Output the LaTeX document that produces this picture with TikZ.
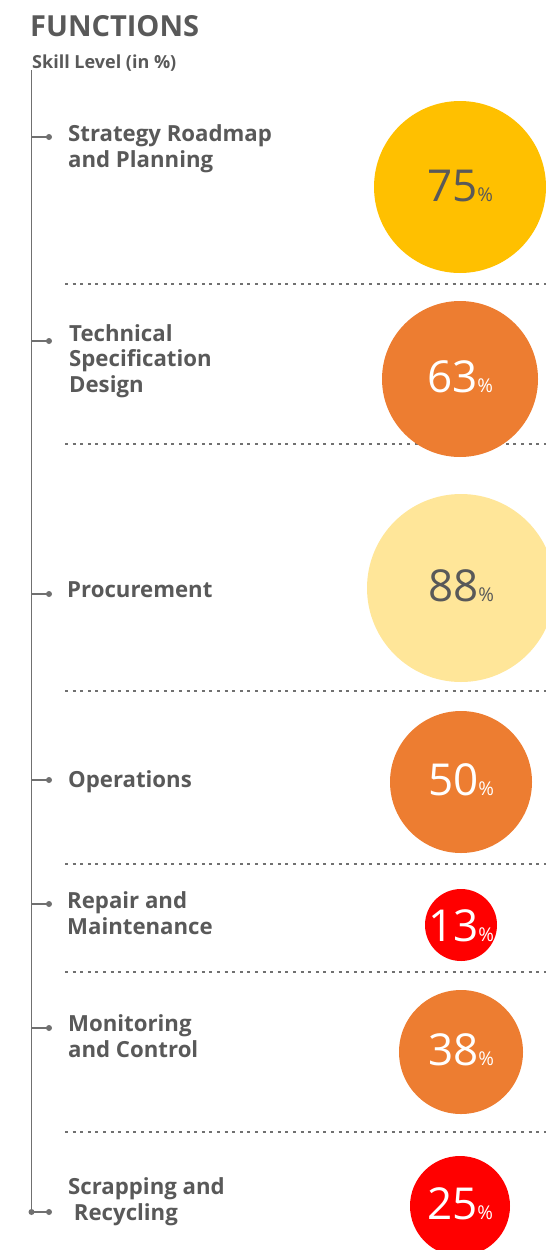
\documentclass[tikz,border=0pt]{standalone}
\usepackage{fontspec}
\setmainfont{Open Sans}
\definecolor{txtgray}{HTML}{595959}
\definecolor{linegray}{HTML}{707070}
\definecolor{cYellow}{HTML}{FFC000}
\definecolor{cOrange}{HTML}{ED7D31}
\definecolor{cLight}{HTML}{FFE699}
\definecolor{cRed}{HTML}{FF0000}
\tikzset{
  label/.style={anchor=base west, align=left, inner sep=0pt, text=txtgray,
    font=\bfseries\fontsize{22.2}{25.5}\selectfont},
  tickdot/.style={circle, fill=linegray, inner sep=0pt, minimum size=6pt},
  spine/.style={draw=linegray, line width=1.3pt},
  sep/.style={draw=linegray, line width=1.8pt, dash pattern=on 3pt off 4.6pt},
  pct/.style={anchor=base, inner sep=0pt, font=\fontsize{44}{44}\selectfont},
}
\newcommand{\pc}{{\fontsize{19}{19}\selectfont\%}}
\begin{document}
\begin{tikzpicture}[x=1pt,y=-1pt]
\useasboundingbox (0,0) rectangle (546,1250);
\clip (0,0) rectangle (546,1250);
% title
\node[anchor=base west, inner sep=0pt, text=txtgray, font=\bfseries\fontsize{29}{29}\selectfont] (title) at (30,36) {FUNCTIONS};
\node[anchor=base west, inner sep=0pt, text=txtgray, font=\bfseries\fontsize{18}{18}\selectfont] (sub) at (32,68) {Skill Level (in \%)};
% spine
\coordinate (top) at (31.5,70);
\node[tickdot] (bot) at (31.5,1212) {};
\draw[spine] (top) -- (bot.center);
% ticks
\foreach \n/\y in {t1/137,t2/341,t3/594,t4/780,t5/904,t6/1028,t7/1212}{
  \node[tickdot] (\n) at (49,\y) {};
  \coordinate (\n s) at (31.5,\y);
  \draw[spine] (\n s) -- (\n.center);
}
% labels (anchor = baseline of last line)
\node[label] (l1) at (68,167) {Strategy Roadmap\\and Planning};
\node[label] (l2) at (69,392) {Technical\\Specification\\Design};
\node[label] (l3) at (67,597) {Procurement};
\node[label] (l4) at (68,787) {Operations};
\node[label] (l5) at (67,934) {Repair and\\Maintenance};
\node[label] (l6) at (68,1057) {Monitoring\\and Control};
\node[label] (l7) at (68,1220) {Scrapping and\\\ Recycling};
% separators
\foreach \n/\y in {1/284,2/444,3/691,4/864,5/972,6/1132}{
  \coordinate (s\n a) at (65,\y);
  \coordinate (s\n b) at (546,\y);
  \draw[sep] (s\n a) -- (s\n b);
}
% bubbles
\fill[cYellow] (460,187) circle (86);
\fill[cOrange] (460,379) circle (78);
\fill[cLight] (461,588) circle (94);
\fill[cOrange] (461,782) circle (71);
\fill[cRed] (461,925) circle (36);
\fill[cOrange] (461,1052) circle (62);
\fill[cRed] (460,1206) circle (50);
% values
\node[pct, text=txtgray] (v1) at (460,201) {75\pc};
\node[pct, text=white] (v2) at (460,392) {63\pc};
\node[pct, text=txtgray] (v3) at (461,601) {88\pc};
\node[pct, text=white] (v4) at (461,795) {50\pc};
\node[pct, text=white] (v5) at (461,941) {13\pc};
\node[pct, text=white] (v6) at (461,1065) {38\pc};
\node[pct, text=white] (v7) at (460,1219) {25\pc};
\end{tikzpicture}
\end{document}
